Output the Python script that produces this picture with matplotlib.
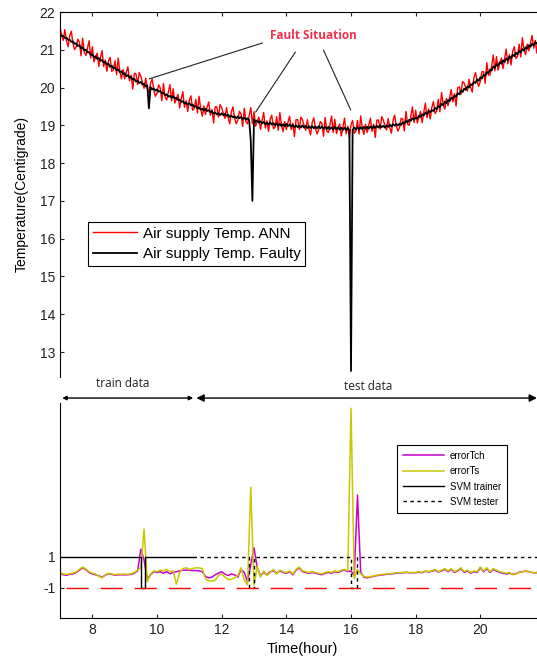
import matplotlib.pyplot as plt
import numpy as np

plt.rcParams['font.family'] = ['Liberation Sans', 'DejaVu Sans']
plt.rcParams['axes.unicode_minus'] = False

# supply-air temperature log, 3-minute samples from 7:00 to 21:48
temp_hours = np.round(7.0 + 0.05 * np.arange(297), 2)

ann_temp = [
    21.57, 21.41, 21.25, 21.53, 21.24, 21.08, 21.37, 21.49, 21.17, 21.01,
    21.07, 21.28, 21.20, 20.84, 21.31, 20.94, 20.85, 21.05, 21.24, 20.78,
    21.08, 20.68, 20.80, 20.91, 20.56, 20.79, 20.98, 20.56, 20.73, 20.43,
    20.71, 20.80, 20.43, 20.46, 20.71, 20.34, 20.78, 20.43, 20.23, 20.48,
    20.23, 20.40, 20.55, 20.18, 20.33, 19.96, 20.38, 20.36, 20.08, 20.40,
    20.30, 20.13, 19.98, 20.25, 19.98, 19.86, 20.11, 20.23, 19.93, 19.77,
    19.85, 20.07, 19.99, 19.65, 20.11, 19.75, 19.67, 19.88, 20.08, 19.65,
    19.97, 19.59, 19.70, 19.82, 19.46, 19.70, 19.89, 19.48, 19.65, 19.37,
    19.67, 19.78, 19.40, 19.44, 19.69, 19.33, 19.77, 19.44, 19.24, 19.51,
    19.29, 19.48, 19.62, 19.27, 19.42, 19.06, 19.49, 19.49, 19.22, 19.55,
    19.47, 19.32, 19.18, 19.47, 19.20, 19.04, 19.36, 19.49, 19.19, 19.04,
    19.14, 19.37, 19.30, 18.97, 19.45, 19.10, 19.04, 19.26, 19.47, 19.04,
    19.36, 18.98, 19.10, 19.22, 18.89, 19.13, 19.34, 18.93, 19.12, 18.84,
    19.16, 19.27, 18.91, 18.95, 19.23, 18.87, 19.34, 19.00, 18.83, 19.10,
    18.89, 19.08, 19.24, 18.89, 19.06, 18.70, 19.15, 19.15, 18.89, 19.22,
    19.15, 18.99, 18.87, 19.15, 18.90, 18.75, 19.08, 19.20, 18.92, 18.77,
    18.88, 19.10, 19.05, 18.71, 19.21, 18.85, 18.81, 19.02, 19.25, 18.81,
    19.16, 18.78, 18.92, 19.04, 18.72, 18.96, 19.19, 18.78, 18.98, 18.69,
    19.01, 19.13, 18.79, 18.84, 19.13, 18.77, 19.25, 18.92, 18.76, 19.03,
    18.81, 19.01, 19.19, 18.84, 19.03, 18.68, 19.14, 19.14, 18.90, 19.23,
    19.14, 18.99, 18.88, 19.18, 18.94, 18.79, 19.13, 19.27, 18.99, 18.85,
    18.94, 19.19, 19.16, 18.85, 19.37, 19.03, 19.00, 19.24, 19.49, 19.07,
    19.40, 19.06, 19.22, 19.37, 19.07, 19.34, 19.59, 19.20, 19.43, 19.17,
    19.48, 19.63, 19.31, 19.38, 19.69, 19.36, 19.87, 19.55, 19.43, 19.71,
    19.52, 19.74, 19.95, 19.62, 19.84, 19.51, 20.00, 20.02, 19.82, 20.16,
    20.12, 19.99, 19.91, 20.22, 20.01, 19.88, 20.25, 20.40, 20.17, 20.03,
    20.17, 20.42, 20.42, 20.11, 20.66, 20.33, 20.33, 20.57, 20.86, 20.44,
    20.82, 20.46, 20.64, 20.78, 20.50, 20.76, 21.02, 20.63, 20.87, 20.60,
    20.95, 21.08, 20.77, 20.83, 21.15, 20.81, 21.32, 21.00, 20.87, 21.15,
    20.97, 21.18, 21.38, 21.04, 21.25, 20.91, 21.38,
]

faulty_temp = [
    21.42, 21.36, 21.37, 21.31, 21.32, 21.26, 21.27, 21.21, 21.22, 21.16,
    21.17, 21.10, 21.12, 21.04, 21.06, 20.99, 21.00, 20.93, 20.94, 20.86,
    20.88, 20.80, 20.83, 20.76, 20.78, 20.71, 20.73, 20.66, 20.68, 20.61,
    20.63, 20.55, 20.58, 20.51, 20.53, 20.46, 20.48, 20.41, 20.43, 20.36,
    20.38, 20.30, 20.33, 20.26, 20.28, 20.21, 20.23, 20.16, 20.18, 20.12,
    20.15, 20.08, 20.10, 20.03, 20.06, 19.45, 20.01, 19.95, 19.98, 19.92,
    19.95, 19.89, 19.91, 19.85, 19.86, 19.80, 19.82, 19.76, 19.78, 19.73,
    19.77, 19.71, 19.73, 19.67, 19.68, 19.62, 19.64, 19.58, 19.60, 19.55,
    19.59, 19.53, 19.55, 19.49, 19.51, 19.45, 19.47, 19.42, 19.44, 19.39,
    19.44, 19.38, 19.40, 19.35, 19.37, 19.31, 19.34, 19.29, 19.32, 19.27,
    19.32, 19.27, 19.30, 19.25, 19.28, 19.22, 19.26, 19.21, 19.24, 19.19,
    19.24, 19.19, 19.22, 19.17, 19.20, 19.15, 19.19, 19.14, 18.60, 17.00,
    19.16, 19.10, 19.13, 19.07, 19.11, 19.05, 19.09, 19.03, 19.07, 19.02,
    19.08, 19.02, 19.06, 19.00, 19.05, 18.99, 19.04, 18.98, 19.03, 18.98,
    19.04, 18.98, 19.02, 18.97, 19.01, 18.95, 19.00, 18.95, 18.99, 18.94,
    19.00, 18.94, 18.99, 18.93, 18.98, 18.93, 18.98, 18.92, 18.97, 18.92,
    18.98, 18.92, 18.97, 18.91, 18.96, 18.90, 18.96, 18.90, 18.95, 18.89,
    18.96, 18.90, 18.95, 18.89, 18.94, 18.88, 18.94, 18.88, 18.93, 18.87,
    12.50, 18.88, 18.94, 18.89, 18.95, 18.89, 18.95, 18.90, 18.96, 18.91,
    18.96, 18.91, 18.97, 18.92, 18.98, 18.93, 18.99, 18.94, 19.00, 18.95,
    18.99, 18.94, 19.00, 18.96, 19.02, 18.97, 19.03, 18.99, 19.04, 19.00,
    19.04, 19.01, 19.08, 19.05, 19.12, 19.08, 19.15, 19.12, 19.19, 19.15,
    19.20, 19.18, 19.25, 19.22, 19.29, 19.26, 19.34, 19.30, 19.38, 19.35,
    19.40, 19.38, 19.46, 19.43, 19.51, 19.48, 19.57, 19.53, 19.63, 19.59,
    19.67, 19.64, 19.73, 19.70, 19.79, 19.76, 19.85, 19.82, 19.92, 19.88,
    19.97, 19.94, 20.03, 20.00, 20.09, 20.06, 20.15, 20.12, 20.22, 20.18,
    20.27, 20.24, 20.34, 20.31, 20.41, 20.38, 20.48, 20.45, 20.56, 20.52,
    20.62, 20.58, 20.67, 20.63, 20.72, 20.68, 20.77, 20.73, 20.82, 20.78,
    20.87, 20.83, 20.92, 20.88, 20.97, 20.93, 21.02, 20.98, 21.07, 21.03,
    21.12, 21.08, 21.16, 21.12, 21.20, 21.16, 21.23,
]

# residuals fed to the SVM, 6-minute samples
err_hours = np.round(7.0 + 0.1 * np.arange(149), 1)

error_tch = [
    -0.05, -0.15, -0.18, -0.12, -0.10, 0.00, 0.15, 0.30, 0.18, 0.00,
    -0.10, -0.15, -0.22, -0.30, -0.18, -0.08, -0.12, -0.18, -0.15, -0.15,
    -0.15, -0.15, -0.12, -0.05, 0.10, 1.50, 0.80, -0.40, -0.15, 0.05,
    0.00, 0.05, -0.05, 0.05, -0.08, 0.00, 0.05, 0.10, 0.15, 0.15,
    0.15, 0.12, 0.12, 0.10, 0.05, -0.25, -0.35, -0.30, -0.15, -0.05,
    0.05, -0.10, -0.20, -0.10, -0.15, -0.30, 0.20, 0.00, -0.60, 0.50,
    1.60, 0.30, -0.20, 0.00, -0.15, 0.05, 0.10, -0.05, 0.10, 0.00,
    -0.05, 0.05, -0.15, 0.15, 0.30, 0.05, 0.00, -0.05, 0.00, -0.05,
    -0.10, -0.15, -0.05, 0.00, -0.05, 0.05, 0.00, 0.10, 0.15, 0.05,
    0.10, -0.20, 5.00, 0.00, -0.30, -0.35, -0.30, -0.25, -0.20, -0.18,
    -0.15, -0.12, -0.10, -0.08, -0.05, -0.03, -0.02, 0.00, -0.02, -0.02,
    -0.02, 0.02, -0.02, 0.08, 0.02, 0.08, 0.15, 0.02, 0.10, 0.20,
    0.05, 0.20, 0.00, 0.10, 0.25, 0.00, 0.10, -0.05, 0.05, 0.00,
    0.30, 0.05, 0.25, 0.00, 0.20, 0.10, 0.00, -0.05, -0.10, -0.05,
    -0.12, -0.08, 0.02, 0.05, 0.08, 0.05, 0.00, -0.05, 0.05,
]

error_ts = [
    0.00, -0.10, -0.12, -0.08, -0.05, 0.05, 0.20, 0.35, 0.22, 0.05,
    -0.05, -0.10, -0.25, -0.35, -0.15, -0.05, -0.10, -0.15, -0.10, -0.12,
    -0.10, -0.12, -0.08, 0.00, 0.15, 0.30, 2.80, -0.60, -0.10, 0.10,
    0.05, 0.15, 0.10, 0.20, 0.05, 0.10, -0.75, 0.00, 0.25, 0.30,
    0.20, 0.25, 0.30, 0.30, 0.25, -0.40, -0.55, -0.55, -0.50, -0.20,
    -0.10, -0.30, -0.45, -0.45, -0.35, -0.20, 0.30, -0.50, -0.80, 5.50,
    -0.80, 0.40, -0.30, 0.10, -0.20, 0.00, 0.20, -0.10, 0.15, 0.05,
    0.00, 0.10, -0.10, 0.20, 0.35, 0.10, 0.05, 0.00, 0.05, 0.00,
    -0.05, -0.10, 0.00, 0.05, 0.00, 0.10, 0.05, 0.15, 0.20, 0.10,
    10.60, -0.40, 0.20, -0.10, -0.25, -0.30, -0.28, -0.22, -0.18, -0.15,
    -0.12, -0.10, -0.08, -0.05, -0.02, 0.00, 0.00, 0.02, 0.00, 0.00,
    0.00, 0.05, 0.00, 0.10, 0.05, 0.10, 0.20, 0.05, 0.15, 0.25,
    0.10, 0.25, 0.05, 0.15, 0.30, 0.05, 0.15, 0.00, 0.10, 0.05,
    0.35, 0.10, 0.30, 0.05, 0.25, 0.15, 0.05, 0.00, -0.05, 0.00,
    -0.15, -0.10, 0.00, 0.05, 0.10, 0.05, 0.00, -0.05, 0.05,
]

# SVM class output (+1 normal, -1 fault), piecewise constant
svm_train_hours = [7.0, 9.5, 9.62, 11.12]
svm_train_out = [1, -1, 1, 1]
svm_test_hours = [11.12, 12.85, 13.0, 16.0, 16.2, 21.8]
svm_test_out = [1, -1, 1, -1, 1, 1]
threshold_hours = [7.2, 21.8]
threshold_out = [-1, -1]

train_test_split = 11.17
fault_labels_at = [(9.76, 20.23), (13.05, 19.35), (15.99, 19.41)]

fig = plt.figure(figsize=(5.37, 6.61), dpi=100)
W, H = 537, 661


def px_axes(x0, y0, x1, y1):
    return fig.add_axes([x0 / W, 1 - y1 / H, (x1 - x0) / W, (y1 - y0) / H])


# ---- temperature panel ----
ax1 = px_axes(60, 12, 545, 377)
ax1.plot(temp_hours, ann_temp, color='#FF0000', lw=1.0, label='Air supply Temp. ANN')
ax1.plot(temp_hours, faulty_temp, color='k', lw=1.3, label='Air supply Temp. Faulty')
ax1.set_xlim(7, 22)
ax1.set_ylim(12.34, 22)
ax1.set_yticks(range(13, 23))
ax1.set_xticks(range(8, 21, 2))
ax1.tick_params(direction='in', length=3, labelsize=10, colors='#222222',
                top=True, bottom=False, labelbottom=False, labeltop=False)
ax1.spines['bottom'].set_visible(False)
ax1.spines['right'].set_visible(False)
ax1.set_ylabel('Temperature(Centigrade)', fontsize=10)
ax1.yaxis.set_label_coords(-0.064, 0.5)

ax1.text(14.84, 21.39, 'Fault Situation', color='#F0324B', fontsize=8.5,
         fontweight='bold', family='Open Sans', ha='center', va='center')
starts = [(13.26, 21.18), (14.28, 20.94), (15.15, 20.99)]
for (sx, sy), (tx, ty) in zip(starts, fault_labels_at):
    ax1.annotate('', xy=(tx, ty), xytext=(sx, sy),
                 arrowprops=dict(arrowstyle='-', lw=0.8, color='#222222',
                                 shrinkA=0, shrinkB=0))

leg1 = ax1.legend(loc='upper left', bbox_to_anchor=(88 / W, 1 - 222 / H),
                  bbox_transform=fig.transFigure, borderaxespad=0,
                  fontsize=11, handlelength=2.9, handletextpad=0.4,
                  fancybox=False, framealpha=1, labelspacing=0.45,
                  borderpad=0.3)
leg1.get_frame().set_edgecolor('k')
leg1.get_frame().set_linewidth(0.8)

# ---- residual / SVM panel ----
ax2 = px_axes(60, 403, 545, 618)
ax2.plot(err_hours, error_tch, color='#CC00CC', lw=1.1, label='errorTch')
ax2.plot(err_hours, error_ts, color='#C8C800', lw=1.1, label='errorTs')
ax2.plot(svm_train_hours, svm_train_out, color='k', lw=1.0,
         drawstyle='steps-post', label='SVM trainer')
ax2.plot(svm_test_hours, svm_test_out, color='k', lw=1.0,
         linestyle=(0, (2.5, 2.5)), drawstyle='steps-post', label='SVM tester')
ax2.plot(threshold_hours, threshold_out, color='#FF0000', lw=1.0,
         linestyle=(0, (16, 8.5)))
ax2.set_xlim(7, 22)
ax2.set_ylim(-2.94, 10.94)
ax2.set_xticks(range(8, 21, 2))
ax2.set_yticks([-1, 1])
ax2.tick_params(direction='in', length=3, labelsize=10, colors='#222222')
ax2.spines['top'].set_visible(False)
ax2.spines['right'].set_visible(False)
ax2.set_xlabel('Time(hour)', fontsize=10.5, labelpad=4)

leg2 = ax2.legend(loc='upper left', bbox_to_anchor=(397 / W, 1 - 445 / H),
                  bbox_transform=fig.transFigure, borderaxespad=0,
                  fontsize=7, handlelength=4.2, handletextpad=0.6,
                  fancybox=False, framealpha=1, labelspacing=0.55,
                  borderpad=0.6)
leg2.get_frame().set_edgecolor('k')
leg2.get_frame().set_linewidth(0.8)

# train / test spans above the residual panel
arrow_y = 11.26
ax2.annotate('', xy=(7.07, arrow_y), xytext=(train_test_split - 0.05, arrow_y),
             annotation_clip=False,
             arrowprops=dict(arrowstyle='<|-|>', mutation_scale=6, lw=1,
                             color='k', shrinkA=0, shrinkB=0))
ax2.annotate('', xy=(train_test_split + 0.05, arrow_y), xytext=(21.75, arrow_y),
             annotation_clip=False,
             arrowprops=dict(arrowstyle='<|-|>', mutation_scale=11, lw=1,
                             color='k', shrinkA=0, shrinkB=0))
ax2.text(8.93, 12.2, 'train data', fontsize=8.5, family='Open Sans',
         ha='center', va='center', color='#222222', clip_on=False)
ax2.text(16.54, 12.0, 'test data', fontsize=8.5, family='Open Sans',
         ha='center', va='center', color='#222222', clip_on=False)

fig.savefig('out.png', dpi=100)
